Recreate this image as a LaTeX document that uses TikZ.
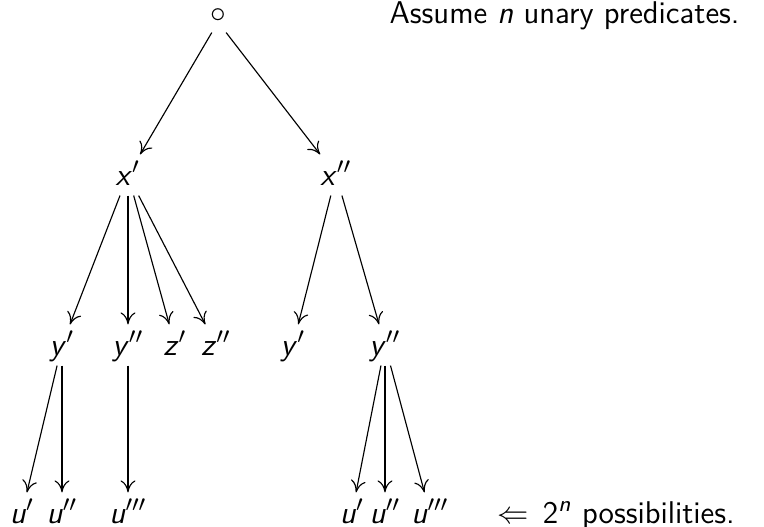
\documentclass[tikz,border=0pt]{standalone}
\usepackage{tikz}
\usetikzlibrary{arrows.meta,positioning}
\newcommand{\mv}[1]{\textsf{\itshape #1}}
\begin{document}
\begin{tikzpicture}[
    x=0.35pt, y=-0.35pt,
    font=\fontsize{11pt}{13pt}\selectfont\sffamily,
    lbl/.style={anchor=base, inner xsep=0pt, inner ysep=3.5pt, text height=7pt, text depth=0pt},
    note/.style={inner sep=0pt},
    arr/.style={-{Computer Modern Rightarrow[length=4.2pt,width=5.2pt]}, line width=0.4pt},
  ]
  \useasboundingbox (0,0) rectangle (764,526);

  % top
  \node[lbl, text height=0pt] (root) at (218,22) {$\circ$};
  \node[note, anchor=base west] (assume) at (389,23) {Assume \mv{n} unary predicates.};

  \node[lbl] (xa) at (128,185) {\mv{x}$'$};
  \node[lbl] (xb) at (336,185) {\mv{x}$''$};

  \node[lbl] (ya) at (62,355) {\mv{y}$'$};
  \node[lbl] (yb) at (128,355) {\mv{y}$''$};
  \node[lbl] (za) at (175,355) {\mv{z}$'$};
  \node[lbl] (zb) at (216,355) {\mv{z}$''$};
  \node[lbl] (yc) at (293,355) {\mv{y}$'$};
  \node[lbl] (yd) at (385,355) {\mv{y}$''$};

  \node[lbl] (ua) at (22,523) {\mv{u}$'$};
  \node[lbl] (ub) at (62,523) {\mv{u}$''$};
  \node[lbl] (uc) at (128,523) {\mv{u}$'''$};
  \node[lbl] (ud) at (352,523) {\mv{u}$'$};
  \node[lbl] (ue) at (385,523) {\mv{u}$''$};
  \node[lbl] (uf) at (430,523) {\mv{u}$'''$};

  % bottom note
  \node[note, anchor=base west] (larr) at (497,523) {$\Leftarrow$};
  \node[note, base right=4.5pt of larr] (poss) {2\textsuperscript{\mv{n}} possibilities.};

  \draw[arr] (root) -- (xa);
  \draw[arr] (root) -- (xb);
  \draw[arr] (xa) -- (ya);
  \draw[arr] (xa) -- (yb);
  \draw[arr] (xa) -- (za);
  \draw[arr] (xa) -- (zb);
  \draw[arr] (xb) -- (yc);
  \draw[arr] (xb) -- (yd);
  \draw[arr] (ya) -- (ua);
  \draw[arr] (ya) -- (ub);
  \draw[arr] (yb) -- (uc);
  \draw[arr] (yd) -- (ud);
  \draw[arr] (yd) -- (ue);
  \draw[arr] (yd) -- (uf);
\end{tikzpicture}
\end{document}
